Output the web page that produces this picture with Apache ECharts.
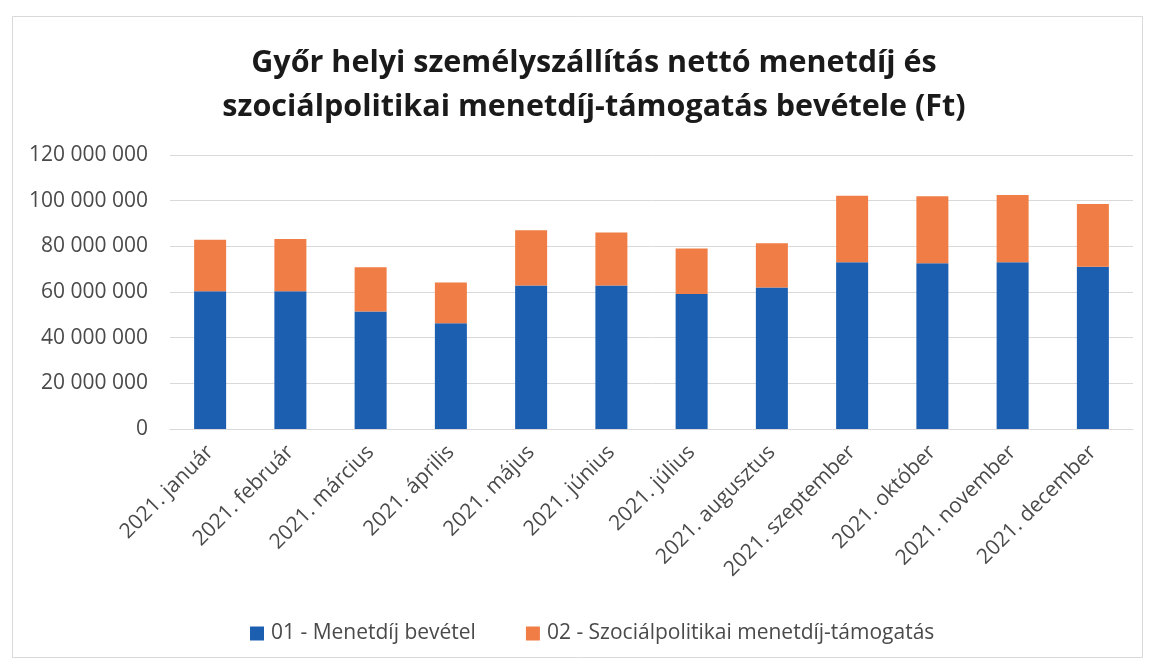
<!DOCTYPE html>
<html>
<head>
<meta charset="utf-8">
<script src="https://cdn.jsdelivr.net/npm/echarts@6/dist/echarts.min.js"></script>
<style>
html,body{margin:0;padding:0;background:#fff;}
#main{width:1149px;height:661px;}
</style>
</head>
<body>
<div id="main"></div>
<script>
const categories = ['2021. január','2021. február','2021. március','2021. április','2021. május','2021. június','2021. július','2021. augusztus','2021. szeptember','2021. október','2021. november','2021. december'];
const menetdijBevetel = [60300000, 60300000, 51500000, 46300000, 62800000, 62900000, 59100000, 62000000, 73000000, 72600000, 73000000, 71100000];
const szocialpolitikai = [22600000, 22900000, 19300000, 17900000, 24200000, 23200000, 20000000, 19300000, 29200000, 29300000, 29500000, 27400000];
const seriesNames = ['01 - Menetdíj bevétel', '02 - Szociálpolitikai menetdíj-támogatás'];
const titleText = 'Győr helyi személyszállítás nettó menetdíj és\nszociálpolitikai menetdíj-támogatás bevétele (Ft)';

const FONT = '"Open Sans", sans-serif';
const chart = echarts.init(document.getElementById('main'), null, {renderer:'canvas'});
function fmt(v){ return String(v).replace(/\B(?=(\d{3})+(?!\d))/g, ' '); }
chart.setOption({
  backgroundColor: '#ffffff',
  animation: false,
  graphic: [{
    type: 'rect', left: 10, top: 14,
    shape: {width: 1130, height: 641},
    style: {fill: 'none', stroke: '#d9d9d9', lineWidth: 1}
  }],
  title: {
    text: titleText,
    left: 589, top: 36, textAlign: 'center',
    textStyle: {fontFamily: FONT, fontSize: 30.5, fontWeight: 'bold', color: '#1a1a1a', lineHeight: 44}
  },
  legend: {
    data: seriesNames,
    left: 245, top: 618,
    itemWidth: 14, itemHeight: 14, itemGap: 50,
    icon: 'rect',
    textStyle: {fontFamily: FONT, fontSize: 21, color: '#4a4a4a', padding: [0,0,0,2]}
  },
  grid: {left: 170, right: 16, top: 155, bottom: 232, containLabel: false},
  xAxis: {
    type: 'category', data: categories,
    axisLine: {lineStyle: {color: '#d9d9d9', width: 1}},
    axisTick: {show: false},
    axisLabel: {rotate: 45, interval: 0, margin: 20, fontFamily: FONT, fontSize: 21, color: '#4a4a4a'}
  },
  yAxis: {
    type: 'value', min: 0, max: 120000000, interval: 20000000,
    axisLine: {show: false}, axisTick: {show: false},
    splitLine: {lineStyle: {color: '#d9d9d9', width: 1}},
    axisLabel: {formatter: fmt, margin: 22, fontFamily: FONT, fontSize: 21, color: '#4a4a4a'}
  },
  series: [
    {name: seriesNames[0], type: 'bar', stack: 'a', data: menetdijBevetel, barWidth: 32, itemStyle: {color: '#1c5fb0'}},
    {name: seriesNames[1], type: 'bar', stack: 'a', data: szocialpolitikai, barWidth: 32, itemStyle: {color: '#f07d45'}}
  ]
});
</script>
</body>
</html>
